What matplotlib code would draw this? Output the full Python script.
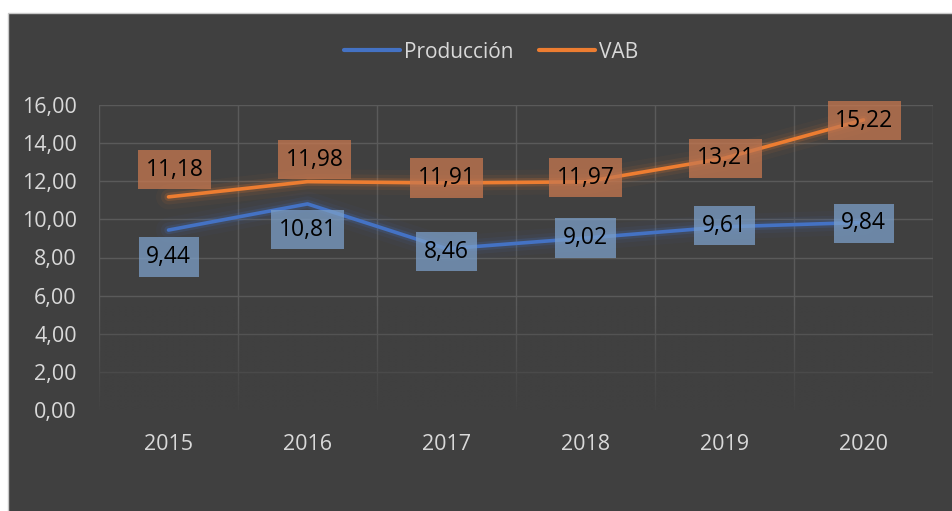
import matplotlib
matplotlib.use("Agg")
from matplotlib import pyplot as plt
from matplotlib import patches
import matplotlib.patheffects as pe
import numpy as np

years = ["2015", "2016", "2017", "2018", "2019", "2020"]
produccion = [9.44, 10.81, 8.46, 9.02, 9.61, 9.84]
vab = [11.18, 11.98, 11.91, 11.97, 13.21, 15.22]
yticks = [0, 2, 4, 6, 8, 10, 12, 14, 16]

# label offsets in pixels (dx, dy) relative to the point
prod_offsets = [(0, -27), (0, -26), (0, -3), (0, 0), (0, 1), (0, -1)]
vab_offsets = [(6, 27), (7, 22), (0, 5), (0, 4), (1, 0), (1, -1)]

BG = "#404040"
TXT = "#d9d9d9"
BLUE = "#4472c4"
ORANGE = "#ed7d31"

plt.rcParams["font.family"] = ["Open Sans", "DejaVu Sans"]

fig = plt.figure(figsize=(9.52, 5.11), dpi=100)
fig.patch.set_facecolor("white")
fig.add_artist(patches.Rectangle((8 / 952, -0.01), 1.0, 1 - 13 / 511 + 0.01,
                                 transform=fig.transFigure, facecolor=BG,
                                 edgecolor="#c8c8c8", linewidth=1.0, zorder=0))

ax = fig.add_axes([99 / 952, 1 - 410 / 511, (933 - 99) / 952, (410 - 105) / 511])
ax.set_facecolor("none")
x = np.arange(len(years))

# grid: horizontal at ticks, vertical at category boundaries
for v in yticks:
    ax.axhline(v, color="#5a5a5a", linewidth=1.0, zorder=1)
for b in np.arange(-0.5, len(years), 1.0):
    ax.axvline(b, color="#5a5a5a", linewidth=1.0, zorder=1)

# fade lower part of the grid
grad = np.zeros((100, 2, 4))
grad[..., :3] = matplotlib.colors.to_rgb(BG)
grad[..., 3] = np.linspace(0.97, 0.0, 100)[:, None]
ax.imshow(grad, extent=(-0.6, len(years) - 0.4, -0.3, 5.5), origin="lower",
          aspect="auto", zorder=1.5, interpolation="bilinear")
ax.set_xlim(-0.5, len(years) - 0.5)
ax.set_ylim(0, 16)

def glow(color):
    return [pe.Stroke(linewidth=18, foreground=color, alpha=0.04),
            pe.Stroke(linewidth=11, foreground=color, alpha=0.08),
            pe.Stroke(linewidth=6, foreground=color, alpha=0.18),
            pe.Normal()]

ax.plot(x, produccion, color=BLUE, linewidth=2.6, solid_capstyle="round",
        zorder=3, path_effects=glow(BLUE), label="Producción")
ax.plot(x, vab, color=ORANGE, linewidth=2.6, solid_capstyle="round",
        zorder=3, path_effects=glow(ORANGE), label="VAB")

def fmt(v):
    return f"{v:.2f}".replace(".", ",")

def labels(vals, offsets, box):
    for xi, v, (dx, dy) in zip(x, vals, offsets):
        ax.annotate(fmt(v), (xi, v), xytext=(dx * 0.72, dy * 0.72),
                    textcoords="offset points", ha="center", va="center",
                    fontsize=16.5, color="black", zorder=4,
                    bbox=dict(boxstyle="square,pad=0.33", facecolor=box,
                              edgecolor="none", alpha=0.75))

labels(produccion, prod_offsets, "#7c9fc8")
labels(vab, vab_offsets, "#c77850")

ax.set_xticks(x)
ax.set_xticklabels(years)
ax.set_yticks(yticks)
ax.set_yticklabels([fmt(v) for v in yticks])
ax.tick_params(axis="both", length=0, colors=TXT, labelsize=15.5)
ax.tick_params(axis="x", pad=17)
ax.tick_params(axis="y", pad=16)
for s in ax.spines.values():
    s.set_visible(False)

leg = fig.legend(loc="center", bbox_to_anchor=(0.516, 1 - 52 / 511), ncol=2,
                 frameon=False, fontsize=15, handlelength=2.7,
                 columnspacing=1.2, handletextpad=0.2)
for t in leg.get_texts():
    t.set_color(TXT)
for h in leg.get_lines():
    h.set_linewidth(3.0)
    h.set_path_effects([])

fig.savefig("out.png", dpi=100, facecolor=fig.get_facecolor())
